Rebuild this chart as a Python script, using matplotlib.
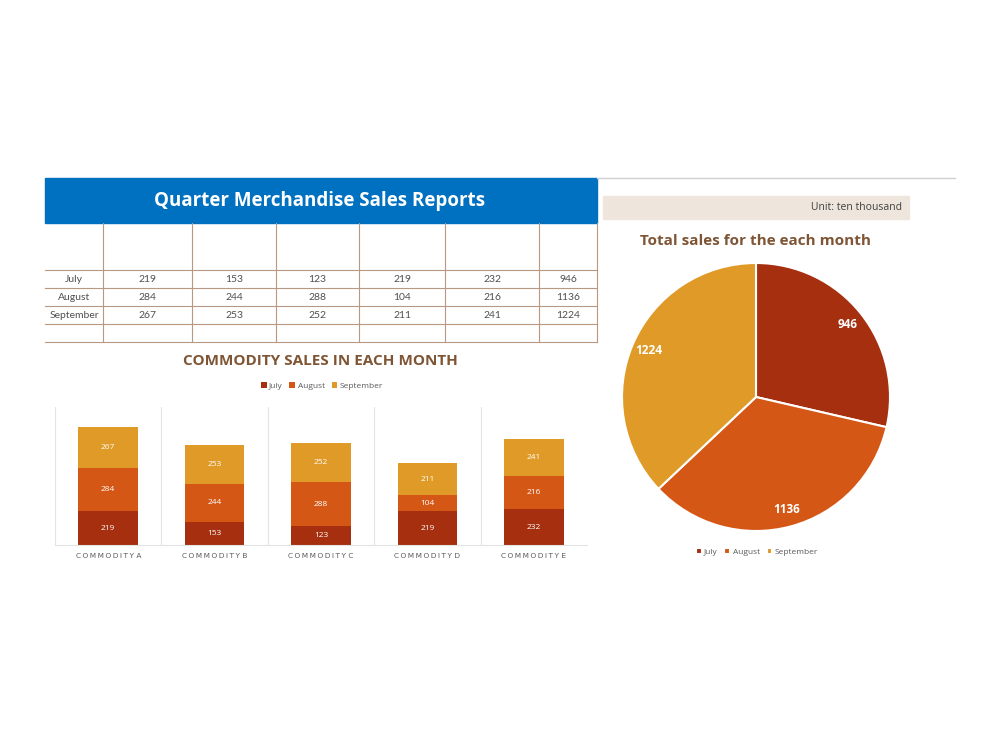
import numpy as np
import matplotlib.pyplot as plt
from matplotlib.patches import Rectangle

months = ["July", "August", "September"]
commodities = ["COMMODITY A", "COMMODITY B", "COMMODITY C", "COMMODITY D", "COMMODITY E"]
july = [219, 153, 123, 219, 232]
august = [284, 244, 288, 104, 216]
september = [267, 253, 252, 211, 241]
totals = [946, 1136, 1224]

colors = ["#A52F0F", "#D55716", "#E09A27"]
brown = "#7E5535"
grid_col = "#E3E3E3"
line_col = "#B89880"

W, H = 1000, 750
fig = plt.figure(figsize=(10, 7.5), dpi=100)
plt.rcParams['font.family'] = ['Open Sans', 'DejaVu Sans']


def box(x0, y0, x1, y1):
    # pixel box -> figure fraction
    return [x0 / W, 1 - y1 / H, (x1 - x0) / W, (y1 - y0) / H]


def spaced(s):
    # mimic the letter spacing of the axis labels
    return " ".join("\u2009".join(w) for w in s.split(" "))


# overlay for the table / banner
bg = fig.add_axes([0, 0, 1, 1])
bg.set_xlim(0, W)
bg.set_ylim(H, 0)
bg.axis("off")

bg.add_patch(Rectangle((45, 178), 552, 45, color="#0070C0", zorder=1))
bg.text(320, 201, "Quarter Merchandise Sales Reports", color="white", fontsize=13.5,
        fontweight="bold", ha="center", va="center")
bg.plot([597, 955], [178, 178], color="#D0D0D0", lw=1)

col_x = [45, 103, 192, 276, 359, 445, 539, 597]
row_y = [223, 270, 288, 306, 324, 342]
for x in col_x[1:]:
    bg.plot([x, x], [223, 342], color=line_col, lw=0.8)
for y in row_y[1:]:
    bg.plot([45, 597], [y, y], color=line_col, lw=0.8)

rows = [
    [july[i] for i in range(5)] + [totals[0]],
    [august[i] for i in range(5)] + [totals[1]],
    [september[i] for i in range(5)] + [totals[2]],
]
for r, (m, vals) in enumerate(zip(months, rows)):
    yc = (row_y[r + 1] + row_y[r + 2]) / 2
    bg.text(74, yc, m, ha="center", va="center", fontsize=7.5, color="#505050",
            family=["Lato", "DejaVu Sans"])
    for c, v in enumerate(vals):
        xc = (col_x[c + 1] + col_x[c + 2]) / 2
        bg.text(xc, yc, str(v), ha="center", va="center", fontsize=7.5, color="#505050",
                family=["Lato", "DejaVu Sans"])

# unit box
bg.add_patch(Rectangle((603, 196), 306, 23, color="#EEE6DD", zorder=1))
bg.text(902, 208, "Unit: ten thousand", ha="right", va="center", fontsize=7.5, color="#404040")

# bar chart
bg.text(320, 361, "COMMODITY SALES IN EACH MONTH", ha="center", va="center",
        fontsize=11, fontweight="bold", color=brown)
ax = fig.add_axes(box(55, 407, 587, 545))
x = np.arange(len(commodities))
bottom = np.zeros(len(commodities))
for name, vals, col in zip(months, [july, august, september], colors):
    bars = ax.bar(x, vals, width=0.56, bottom=bottom, color=col, label=name, zorder=2)
    ax.bar_label(bars, label_type="center", color="white", fontsize=6)
    bottom += np.array(vals)
ax.set_xlim(-0.5, len(commodities) - 0.5)
ax.set_ylim(0, 900)
ax.set_yticks([])
ax.set_xticks(x)
ax.set_xticklabels([spaced(c) for c in commodities], fontsize=5.3, color="#595959",
                   family=["DejaVu Sans"])
ax.tick_params(axis="x", length=0, pad=6)
for b in np.arange(-0.5, len(commodities), 1):
    ax.axvline(b, color=grid_col, lw=0.8, zorder=0)
for s in ["top", "left", "right"]:
    ax.spines[s].set_visible(False)
ax.spines["bottom"].set_color(grid_col)
h, l = ax.get_legend_handles_labels()
fig.legend(h, l, loc="center", bbox_to_anchor=(322 / W, 1 - 386 / H), ncol=3, fontsize=6,
           frameon=False, handlelength=0.7, handleheight=0.7, handletextpad=0.3,
           columnspacing=0.8, labelcolor="#595959")

# pie chart
bg.text(756, 241, "Total sales for the each month", ha="center", va="center",
        fontsize=11, fontweight="bold", color=brown)
pax = fig.add_axes(box(622, 263, 890, 531))
wedges, _, autotexts = pax.pie(totals, colors=colors, startangle=90, counterclock=False,
                               autopct=lambda p: "%d" % round(p * sum(totals) / 100),
                               pctdistance=0.87,
                               wedgeprops=dict(edgecolor="white", linewidth=1.5))
for t in autotexts:
    t.set_color("white")
    t.set_fontsize(8.5)
    t.set_fontweight("bold")
pax.set_xlim(-1, 1)
pax.set_ylim(-1, 1)
pax.set_aspect("equal")
fig.legend(wedges, months, loc="center", bbox_to_anchor=(757 / W, 1 - 552 / H), ncol=3,
           fontsize=6, frameon=False, handlelength=0.7, handleheight=0.7, handletextpad=0.3,
           columnspacing=0.8, labelcolor="#595959")

fig.savefig("out.png", dpi=100)
